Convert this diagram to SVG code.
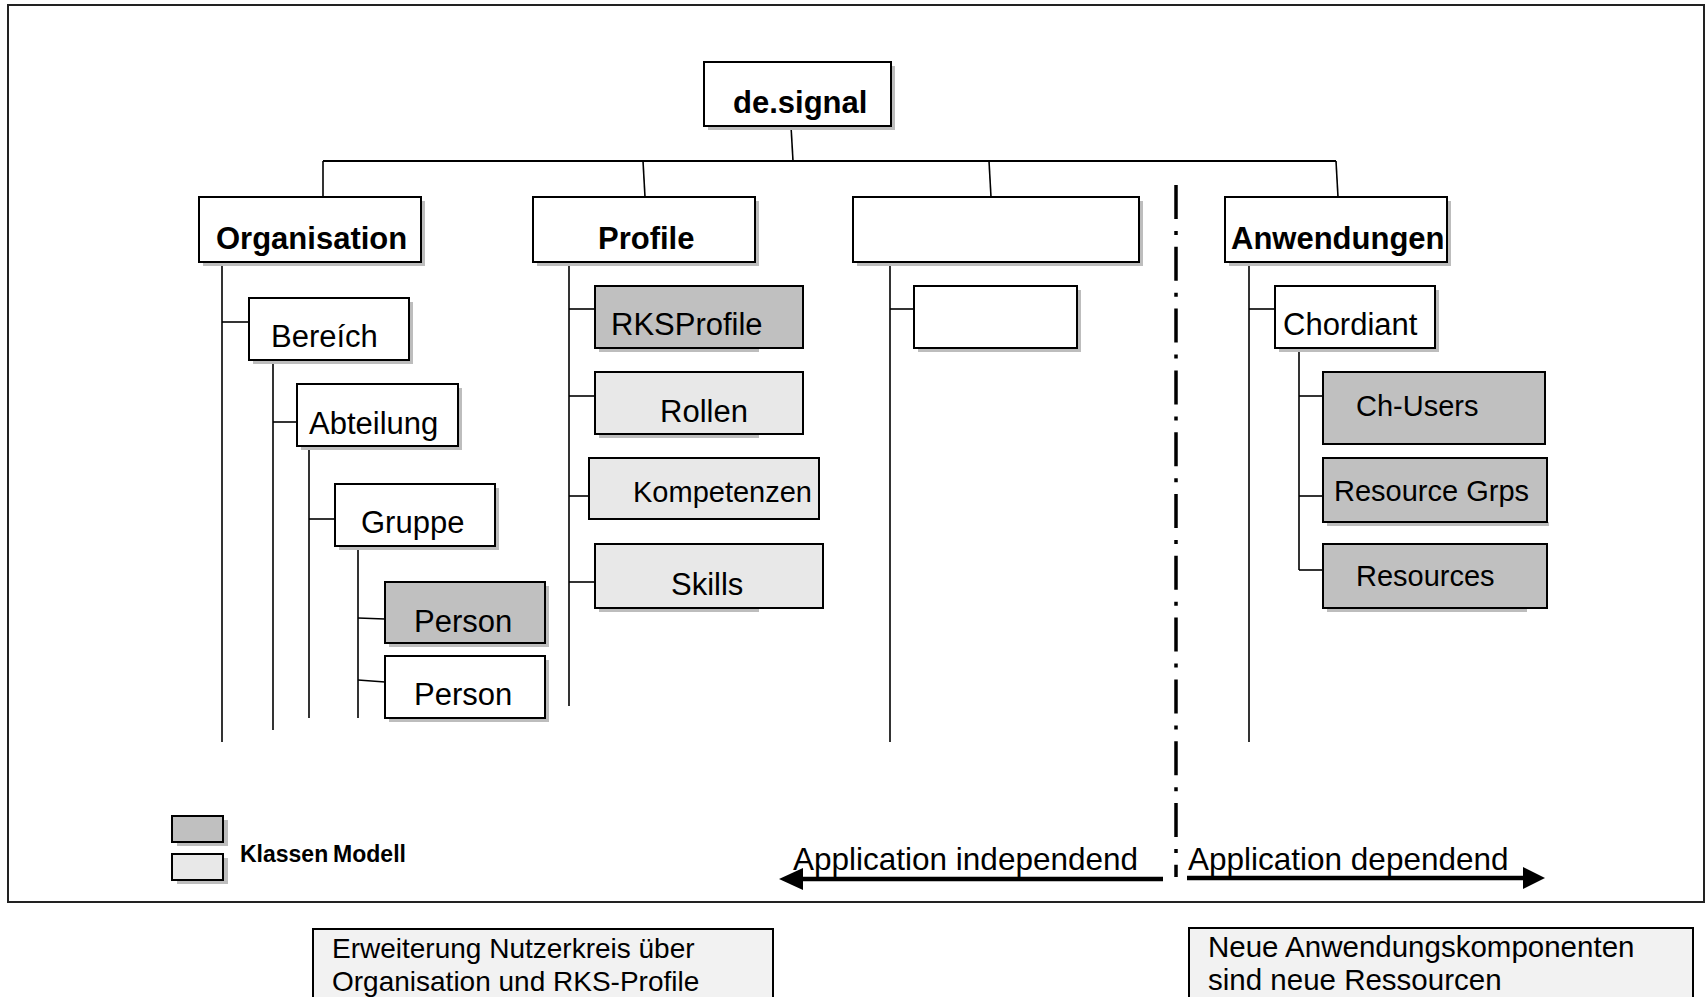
<svg xmlns="http://www.w3.org/2000/svg" width="1706" height="997" viewBox="0 0 1706 997">
  <style>
    .box { stroke: #000; stroke-width: 2; }
    .white { fill: #fff; }
    .dark { fill: #c0c0c0; }
    .light { fill: #e8e8e8; }
    .note { fill: #f2f2f2; stroke: #000; stroke-width: 2; }
    .shadow { fill: #bdbdbd; }
    .link { stroke: #000; stroke-width: 1.6; fill: none; }
    .t { font-family: "Liberation Sans", Arial, sans-serif; fill: #000; }
    .tb { font-family: "Liberation Sans", Arial, sans-serif; font-weight: bold; font-size: 31px; fill: #000; }
    .n { font-size: 31px; }
    .s { font-size: 29px; }
  </style>

  <!-- outer frame -->
  <rect x="8" y="5" width="1696" height="897" fill="#fff" stroke="#222" stroke-width="2"/>

  <!-- tree connectors -->
  <g id="connectors" class="link">
    <path d="M791 126 L793 161"/>
    <path d="M323 161 L1336 161" stroke-width="2"/>
    <path d="M323 161 L323 197"/>
    <path d="M643 161 L645 197"/>
    <path d="M989 161 L991 197"/>
    <path d="M1336 161 L1338 197"/>
    <!-- Organisation branch -->
    <path d="M222 262 L222 742"/>
    <path d="M222 322 L249 322"/>
    <path d="M273 360 L273 730"/>
    <path d="M273 422 L297 422"/>
    <path d="M309 446 L309 718"/>
    <path d="M309 519 L335 519"/>
    <path d="M358 544 L358 718"/>
    <path d="M358 618 L385 619"/>
    <path d="M358 680 L385 682"/>
    <!-- Profile branch -->
    <path d="M569 262 L569 706"/>
    <path d="M569 309 L595 309"/>
    <path d="M569 396 L595 396"/>
    <path d="M569 496 L595 496"/>
    <path d="M569 582 L595 582"/>
    <!-- unnamed branch -->
    <path d="M890 262 L890 742"/>
    <path d="M890 309 L914 309"/>
    <!-- Anwendungen branch -->
    <path d="M1249 262 L1249 742"/>
    <path d="M1249 309 L1275 309"/>
    <path d="M1299 346 L1299 570"/>
    <path d="M1299 396 L1323 396"/>
    <path d="M1299 496 L1323 496"/>
    <path d="M1299 570 L1323 570"/>
  </g>

  <!-- divider between independent and dependent parts -->
  <g id="divider">
    <path d="M1176 185 L1176 877" stroke="#000" stroke-width="3.5" stroke-dasharray="34 12 4 11.8" fill="none"/>
  </g>

  <g id="n-root">
    <rect class="shadow" x="708" y="66" width="187" height="64"/>
    <rect class="box white" x="704" y="62" width="187" height="64"/>
    <text class="tb" x="733" y="113">de.signal</text>
  </g>

  <g id="n-organisation">
    <rect class="shadow" x="203" y="201" width="222" height="65"/>
    <rect class="box white" x="199" y="197" width="222" height="65"/>
    <text class="tb" x="216" y="249">Organisation</text>
  </g>
  <g id="n-profile">
    <rect class="shadow" x="537" y="201" width="222" height="65"/>
    <rect class="box white" x="533" y="197" width="222" height="65"/>
    <text class="tb" x="598" y="249">Profile</text>
  </g>
  <g id="n-unnamed">
    <rect class="shadow" x="857" y="201" width="286" height="65"/>
    <rect class="box white" x="853" y="197" width="286" height="65"/>
  </g>
  <g id="n-anwendungen">
    <rect class="shadow" x="1229" y="201" width="222" height="65"/>
    <rect class="box white" x="1225" y="197" width="222" height="65"/>
    <text class="tb" x="1231" y="249">Anwendungen</text>
  </g>

  <g id="n-bereich">
    <rect class="shadow" x="253" y="302" width="160" height="62"/>
    <rect class="box white" x="249" y="298" width="160" height="62"/>
    <text class="t n" x="271" y="347">Bereích</text>
  </g>
  <g id="n-abteilung">
    <rect class="shadow" x="301" y="388" width="161" height="62"/>
    <rect class="box white" x="297" y="384" width="161" height="62"/>
    <text class="t n" x="309" y="434">Abteilung</text>
  </g>
  <g id="n-gruppe">
    <rect class="shadow" x="339" y="488" width="160" height="62"/>
    <rect class="box white" x="335" y="484" width="160" height="62"/>
    <text class="t n" x="361" y="533">Gruppe</text>
  </g>
  <g id="n-person1">
    <rect class="shadow" x="389" y="586" width="160" height="61"/>
    <rect class="box dark" x="385" y="582" width="160" height="61"/>
    <text class="t n" x="414" y="632">Person</text>
  </g>
  <g id="n-person2">
    <rect class="shadow" x="389" y="660" width="160" height="62"/>
    <rect class="box white" x="385" y="656" width="160" height="62"/>
    <text class="t n" x="414" y="705">Person</text>
  </g>

  <g id="n-rksprofile">
    <rect class="shadow" x="599" y="348" width="160" height="4"/>
    <rect class="box dark" x="595" y="286" width="208" height="62"/>
    <text class="t n" x="611" y="335">RKSProfile</text>
  </g>
  <g id="n-rollen">
    <rect class="shadow" x="599" y="434" width="160" height="4"/>
    <rect class="box light" x="595" y="372" width="208" height="62"/>
    <text class="t n" x="660" y="422">Rollen</text>
  </g>
  <g id="n-kompetenzen">
    <rect class="box light" x="589" y="458" width="230" height="61"/>
    <text class="t s" x="633" y="502">Kompetenzen</text>
  </g>
  <g id="n-skills">
    <rect class="shadow" x="599" y="608" width="160" height="4"/>
    <rect class="box light" x="595" y="544" width="228" height="64"/>
    <text class="t n" x="671" y="595">Skills</text>
  </g>

  <g id="n-unnamed-child">
    <rect class="shadow" x="918" y="290" width="163" height="62"/>
    <rect class="box white" x="914" y="286" width="163" height="62"/>
  </g>

  <g id="n-chordiant">
    <rect class="shadow" x="1279" y="290" width="160" height="62"/>
    <rect class="box white" x="1275" y="286" width="160" height="62"/>
    <text class="t n" x="1283" y="335">Chordiant</text>
  </g>
  <g id="n-chusers">
    <rect class="box dark" x="1323" y="372" width="222" height="72"/>
    <text class="t s" x="1356" y="416">Ch-Users</text>
  </g>
  <g id="n-resourcegrps">
    <rect class="shadow" x="1327" y="522" width="222" height="4"/>
    <rect class="box dark" x="1323" y="458" width="224" height="64"/>
    <text class="t s" x="1334" y="501">Resource Grps</text>
  </g>
  <g id="n-resources">
    <rect class="shadow" x="1327" y="608" width="200" height="4"/>
    <rect class="box dark" x="1323" y="544" width="224" height="64"/>
    <text class="t s" x="1356" y="586">Resources</text>
  </g>

  <!-- legend -->
  <g id="legend">
    <rect class="shadow" x="177" y="820" width="51" height="26"/>
    <rect class="box dark" x="172" y="816" width="51" height="26"/>
    <rect class="shadow" x="177" y="858" width="51" height="26"/>
    <rect class="box light" x="172" y="854" width="51" height="26"/>
    <text class="t" x="240" y="862" font-size="23" font-weight="bold" word-spacing="-1.5">Klassen Modell</text>
  </g>

  <!-- scope arrows -->
  <g id="scope-arrows">
    <path d="M801 879 L1163 879" stroke="#000" stroke-width="4.5"/>
    <polygon points="779,879 803,868 803,890" fill="#000"/>
    <text class="t" x="793" y="870" font-size="31.5">Application independend</text>
    <path d="M1187 878 L1525 878" stroke="#000" stroke-width="4.5"/>
    <polygon points="1545,878 1523,867 1523,889" fill="#000"/>
    <text class="t" x="1188" y="870" font-size="31.5">Application dependend</text>
  </g>

  <!-- notes below the frame -->
  <g id="note-left">
    <rect class="note" x="313" y="929" width="460" height="100"/>
    <text class="t" x="332" y="958" font-size="28">Erweiterung Nutzerkreis über</text>
    <text class="t" x="332" y="991" font-size="28">Organisation und RKS-Profile</text>
  </g>
  <g id="note-right">
    <rect class="note" x="1189" y="928" width="504" height="100"/>
    <text class="t" x="1208" y="957" font-size="29.5">Neue Anwendungskomponenten</text>
    <text class="t" x="1208" y="990" font-size="29.5">sind neue Ressourcen</text>
  </g>
</svg>
